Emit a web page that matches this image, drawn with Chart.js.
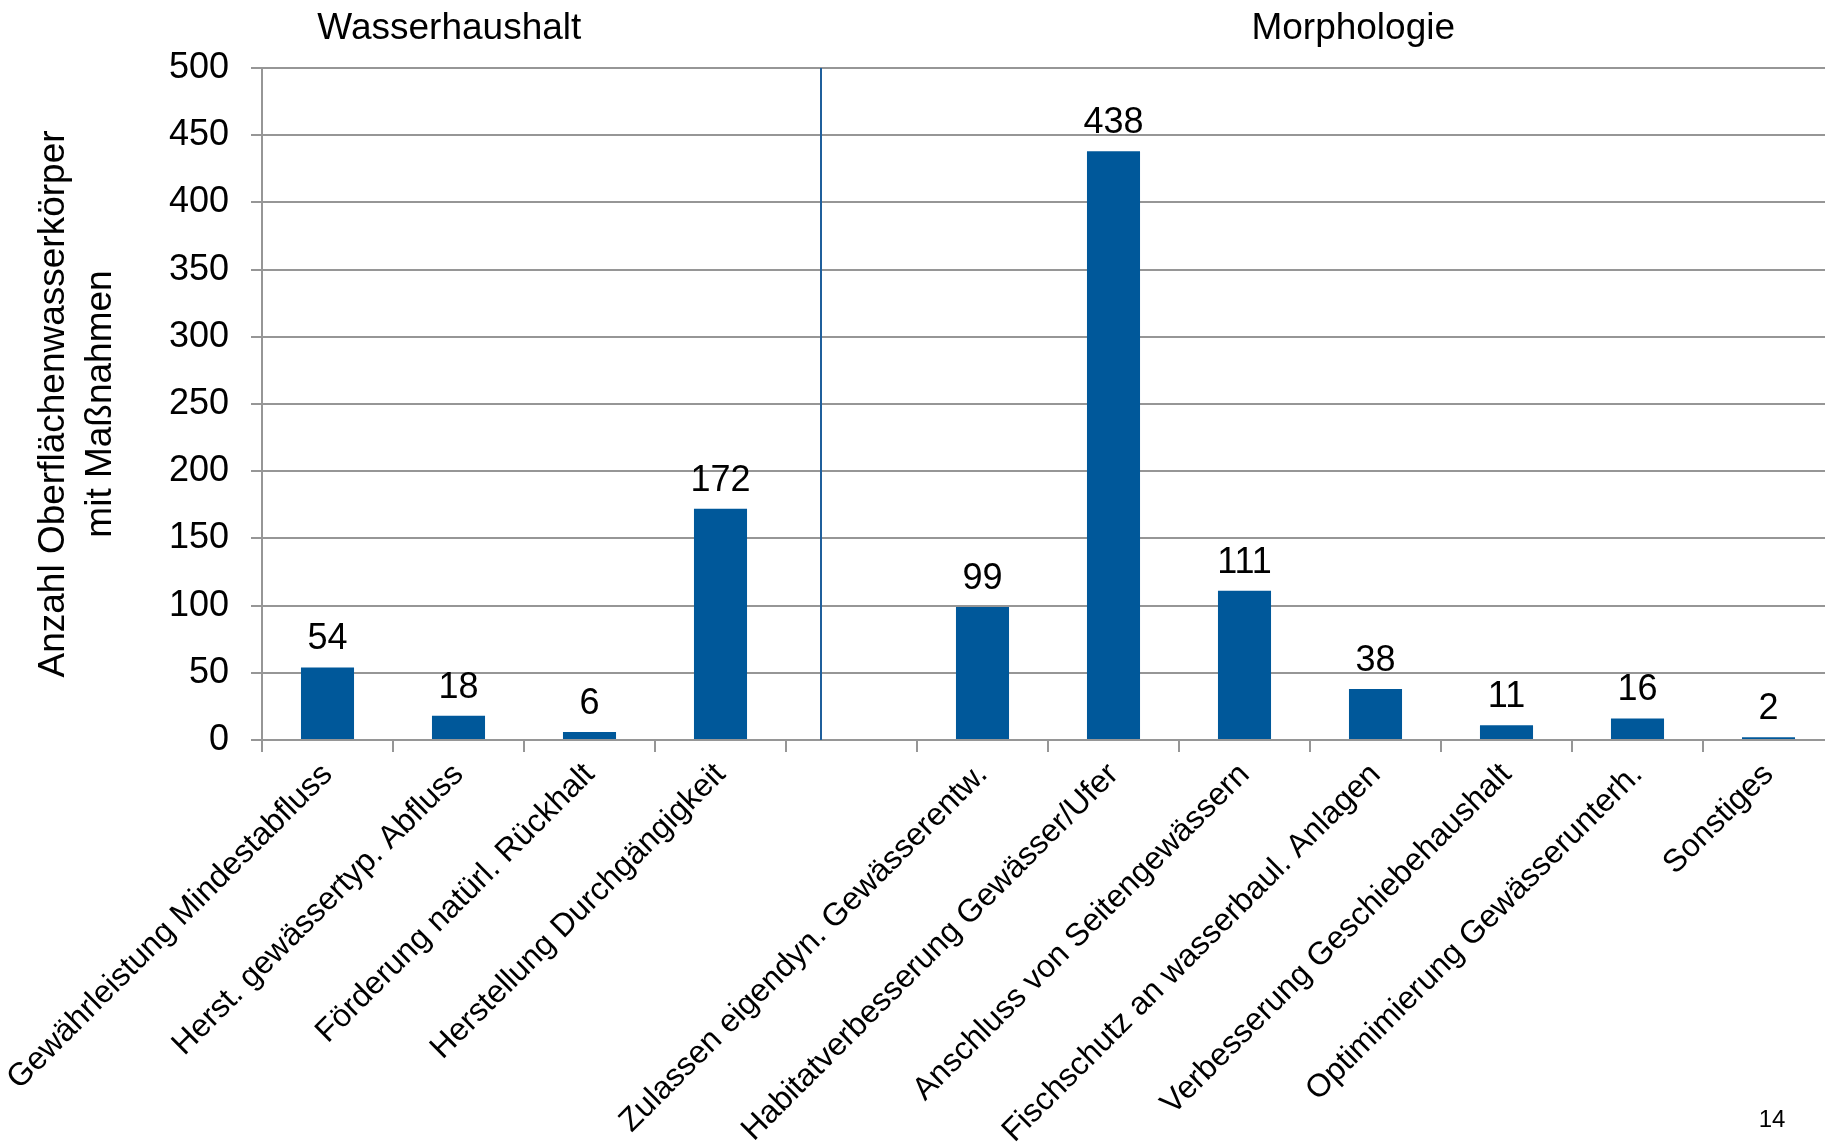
<!DOCTYPE html>
<html lang="de">
<head>
<meta charset="utf-8">
<title>Maßnahmen an Oberflächenwasserkörpern</title>
<script src="https://cdn.jsdelivr.net/npm/chart.js@4.4.1/dist/chart.umd.min.js"></script>
<style>
  html, body { margin: 0; padding: 0; background: #fff; overflow: hidden; }
  #wrap { position: absolute; left: 0; top: 0; width: 1834px; height: 1144px; }
  #pageNo {
    position: absolute; left: 1750px; top: 1105px; width: 44px; text-align: center;
    font: 24px "Liberation Sans", Arial, sans-serif; color: #000;
  }
</style>
</head>
<body>
<div id="wrap"><canvas id="massnahmen"></canvas></div>
<div id="pageNo">14</div>
<script>
const FONT = '"Liberation Sans", Arial, sans-serif';
const BAR_BLUE = '#00589a';
const GRID_GREY = '#969696';

// categories (empty slot separates the two groups)
const categories = [
  'Gewährleistung Mindestabfluss',
  'Herst. gewässertyp. Abfluss',
  'Förderung natürl. Rückhalt',
  'Herstellung Durchgängigkeit',
  '',
  'Zulassen eigendyn. Gewässerentw.',
  'Habitatverbesserung Gewässer/Ufer',
  'Anschluss von Seitengewässern',
  'Fischschutz an wasserbaul. Anlagen',
  'Verbesserung Geschiebehaushalt',
  'Optimimierung Gewässerunterh.',
  'Sonstiges'
];
const counts = [54, 18, 6, 172, null, 99, 438, 111, 38, 11, 16, 2];
const groupNames = ['Wasserhaushalt', 'Morphologie'];
const yTitle = ['Anzahl Oberflächenwasserkörper', 'mit Maßnahmen'];

// headings, group divider and value labels
const decorations = {
  id: 'decorations',
  afterDatasetsDraw(chart, args, opts) {
    const ctx = chart.ctx;
    const x = chart.scales.x;
    const area = chart.chartArea;
    ctx.save();

    // divider between the groups
    const dx = Math.round(x.getPixelForValue(opts.dividerAt));
    ctx.strokeStyle = '#1f5f9c';
    ctx.lineWidth = 2;
    ctx.beginPath();
    ctx.moveTo(dx, area.top);
    ctx.lineTo(dx, area.bottom);
    ctx.stroke();

    ctx.fillStyle = '#000';
    ctx.textAlign = 'center';
    ctx.textBaseline = 'alphabetic';

    ctx.font = '37px ' + FONT;
    groupNames.forEach((name, i) => {
      ctx.fillText(name, x.getPixelForValue(opts.groupAt[i]), opts.groupBaseline);
    });

    // numbers above the bars
    ctx.font = '36px ' + FONT;
    chart.getDatasetMeta(0).data.forEach((bar, i) => {
      const v = counts[i];
      if (v === null) return;
      ctx.fillText(String(v), bar.x, bar.y - 18);
    });
    ctx.restore();
  }
};

new Chart(document.getElementById('massnahmen'), {
  type: 'bar',
  data: {
    labels: categories,
    datasets: [{
      data: counts,
      backgroundColor: BAR_BLUE,
      barPercentage: 0.405,
      categoryPercentage: 1.0
    }]
  },
  options: {
    responsive: true,
    maintainAspectRatio: false,
    animation: false,
    layout: { padding: { left: 31, top: 68, right: 0, bottom: 0 } },
    plugins: {
      legend: { display: false },
      tooltip: { enabled: false },
      decorations: { dividerAt: 3.77, groupAt: [0.93, 7.83], groupBaseline: 39 }
    },
    scales: {
      x: {
        grid: { display: true, drawOnChartArea: false, drawTicks: true, tickLength: 12, color: GRID_GREY, lineWidth: 2 },
        border: { color: GRID_GREY, width: 2 },
        ticks: {
          autoSkip: false,
          maxRotation: 45,
          minRotation: 45,
          padding: 4,
          color: '#000',
          font: { family: FONT, size: 32 }
        },
        afterFit(scale) {
          scale.height = 404;
          scale.paddingLeft = 0;
          scale.paddingRight = 0;
        }
      },
      y: {
        min: 0,
        max: 500,
        grid: { color: GRID_GREY, lineWidth: 2, tickLength: 11 },
        border: { color: GRID_GREY, width: 2 },
        ticks: {
          stepSize: 50,
          padding: 22,
          color: '#000',
          font: { family: FONT, size: 36 }
        },
        title: {
          display: true,
          text: yTitle,
          color: '#000',
          font: { family: FONT, size: 37, lineHeight: 1.25 },
          padding: { top: 0, bottom: 47 }
        },
        afterFit(scale) {
          scale.width = 231;
        }
      }
    }
  },
  plugins: [decorations]
});
</script>
</body>
</html>
